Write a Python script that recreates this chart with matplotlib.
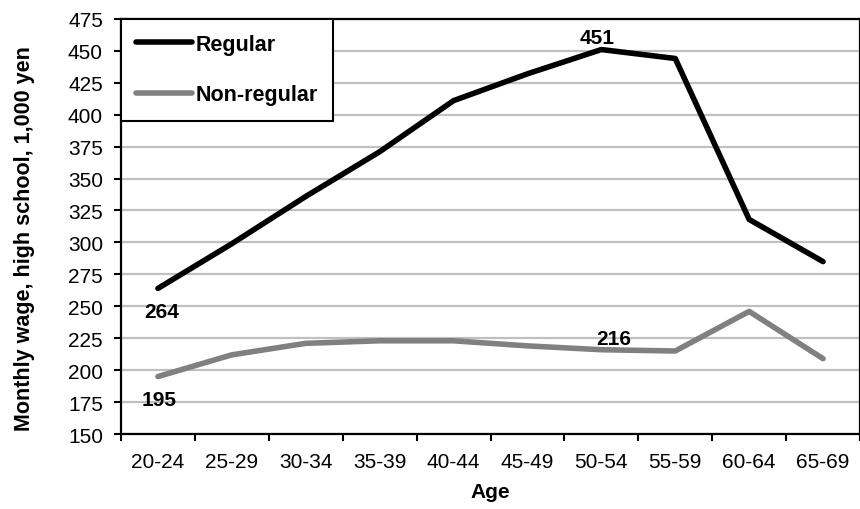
import matplotlib
matplotlib.use('Agg')
import matplotlib.pyplot as plt

# data
ages = ['20-24', '25-29', '30-34', '35-39', '40-44', '45-49', '50-54', '55-59', '60-64', '65-69']
regular = [264, 299, 336, 371, 411, 432, 451, 444, 318, 285]
non_regular = [195, 212, 221, 223, 223, 219, 216, 215, 246, 209]
y_ticks = list(range(150, 476, 25))

plt.rcParams['font.family'] = ['Liberation Sans', 'DejaVu Sans']

fig = plt.figure(figsize=(8.6, 5.1), dpi=100)
ax = fig.add_axes([0.1407, 0.147, 0.8593, 0.814])

x = list(range(len(ages)))
ax.plot(x, regular, color='black', lw=4, label='Regular', solid_capstyle='round', zorder=3)
ax.plot(x, non_regular, color='#808080', lw=4, label='Non-regular', solid_capstyle='round', zorder=3)

ax.set_xlim(-0.5, len(ages) - 0.5)
ax.set_ylim(150, 475)
ax.set_yticks(y_ticks)
ax.set_xticks(x)
ax.set_xticklabels(ages, fontsize=15)
ax.tick_params(axis='x', length=0, pad=13)
ax.set_xticks([i - 0.5 for i in range(len(ages) + 1)], minor=True)
ax.tick_params(axis='x', which='minor', length=5, width=1.5, direction='out')
ax.tick_params(axis='y', length=5, width=1.5, direction='out', labelsize=15, pad=8)
ax.yaxis.grid(True, color='#c0c0c0', lw=1.6)
ax.set_axisbelow(True)
for s in ax.spines.values():
    s.set_linewidth(1.6)

ax.set_xlabel('Age', fontsize=15, fontweight='bold', labelpad=8)
fig.text(25 / 860, 0.533, 'Monthly wage, high school, 1,000 yen', rotation=90,
         ha='center', va='center', fontsize=15.5, fontweight='bold')

# value labels
bold = dict(fontsize=15, fontweight='bold', ha='center', textcoords='offset points')
ax.annotate(str(regular[0]), (0, regular[0]), xytext=(3, -10), va='top', **bold)
ax.annotate(str(regular[6]), (6, regular[6]), xytext=(-3, 2), va='bottom', **bold)
ax.annotate(str(non_regular[0]), (0, non_regular[0]), xytext=(1, -10), va='top', **bold)
ax.annotate(str(non_regular[6]), (6, non_regular[6]), xytext=(9, 1), va='bottom', **bold)

leg = ax.legend(loc='upper left', bbox_to_anchor=(0, 1), fancybox=False, framealpha=1,
                edgecolor='black', borderaxespad=0, handlelength=2.6, handletextpad=0.15,
                labelspacing=1.37, borderpad=0.7, prop={'weight': 'bold', 'size': 15.5})
leg.get_frame().set_linewidth(1.5)

fig.savefig('out.png', dpi=100)
